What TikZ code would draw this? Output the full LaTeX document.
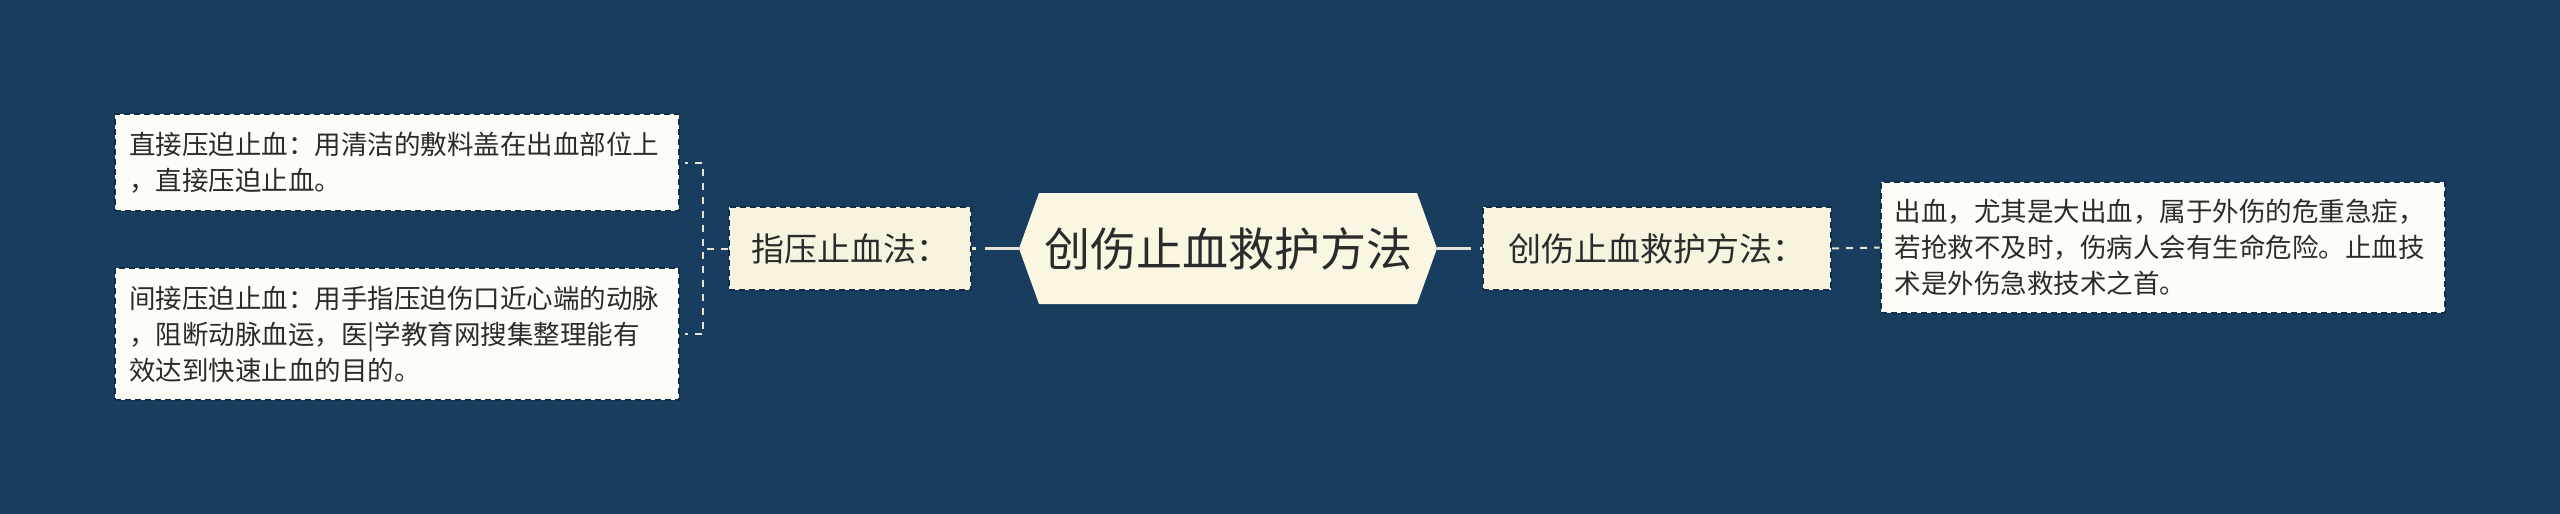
\documentclass[tikz,border=0pt]{standalone}
\usepackage{fontspec}
\newfontfamily\cjk{Noto Sans CJK SC}
\definecolor{navy}{HTML}{183D5E}
\definecolor{hubfill}{HTML}{FBF6E2}
\definecolor{midfill}{HTML}{F8F3DF}
\definecolor{leaffill}{HTML}{FDFDF8}
\definecolor{ink}{HTML}{2B2B2B}
\definecolor{wire}{HTML}{E6E4DA}

\begin{document}
\begin{tikzpicture}[x=0.5pt, y=-0.5pt,
  leafbox/.style={draw=navy!75!black, dash pattern=on 3pt off 2pt, line width=1pt,
    fill=leaffill, text=ink, inner xsep=7pt, inner ysep=0pt, text width=268pt,
    align=left, font=\cjk\fontsize{13.25pt}{18pt}\selectfont},
  midbox/.style={draw=navy!75!black, dash pattern=on 3pt off 2pt, line width=1pt,
    fill=midfill, text=ink, minimum height=41.5pt, inner xsep=0pt,
    font=\cjk\fontsize{16.5pt}{20pt}\selectfont},
  hubtext/.style={text=ink, minimum width=209pt, minimum height=55.5pt, inner sep=0pt,
    font=\cjk\fontsize{23pt}{28pt}\selectfont},
  trunk/.style={draw=wire, line width=1.5pt, dash pattern=on 17pt off 4.5pt},
  twig/.style={draw=wire, line width=1pt, dash pattern=on 3.5pt off 3.5pt}]

  % canvas
  \useasboundingbox (0,0) rectangle (2560,514);
  \fill[navy] (0,0) rectangle (2560,514);

  % central hexagon
  \fill[hubfill] (1019,248.5) -- (1039,193) -- (1417,193) -- (1437,248.5)
    -- (1417,304) -- (1039,304) -- cycle;
  \draw[white!70!hubfill, line width=1pt] (1039,193.5) -- (1417,193.5);
  \node[hubtext] (hub) at (1228,248.5) {创伤止血救护方法};

  % left branch
  \node[midbox, minimum width=121pt] (zhiya) at (850,248.5) {指压止血法：};
  \node[leafbox, minimum height=48.5pt] (zhijie) at (397,162.5)
    {直接压迫止血：用清洁的敷料盖在出血部位上\\，直接压迫止血。};
  \node[leafbox, minimum height=66pt] (jianjie) at (397,334)
    {间接压迫止血：用手指压迫伤口近心端的动脉\\，阻断动脉血运，医|学教育网搜集整理能有\\效达到快速止血的目的。};

  % right branch
  \node[midbox, minimum width=174pt] (fangfa) at (1657,248.5) {创伤止血救护方法：};
  \node[leafbox, minimum height=65.5pt] (chuxue) at (2162.5,247.5)
    {出血，尤其是大出血，属于外伤的危重急症，\\若抢救不及时，伤病人会有生命危险。止血技\\术是外伤急救技术之首。};

  % connectors
  \draw[trunk] (hub.west) -- (zhiya.east);
  \draw[trunk] (hub.east) -- (fangfa.west);
  \draw[twig] (fangfa.east) -- (chuxue.west);
  \draw[twig, shorten >=2.5pt] (zhiya.west) -- ++(-25,0) |- (zhijie.east);
  \draw[twig, shorten >=2.5pt] (zhiya.west) -- ++(-25,0) |- (jianjie.east);

\end{tikzpicture}
\end{document}
